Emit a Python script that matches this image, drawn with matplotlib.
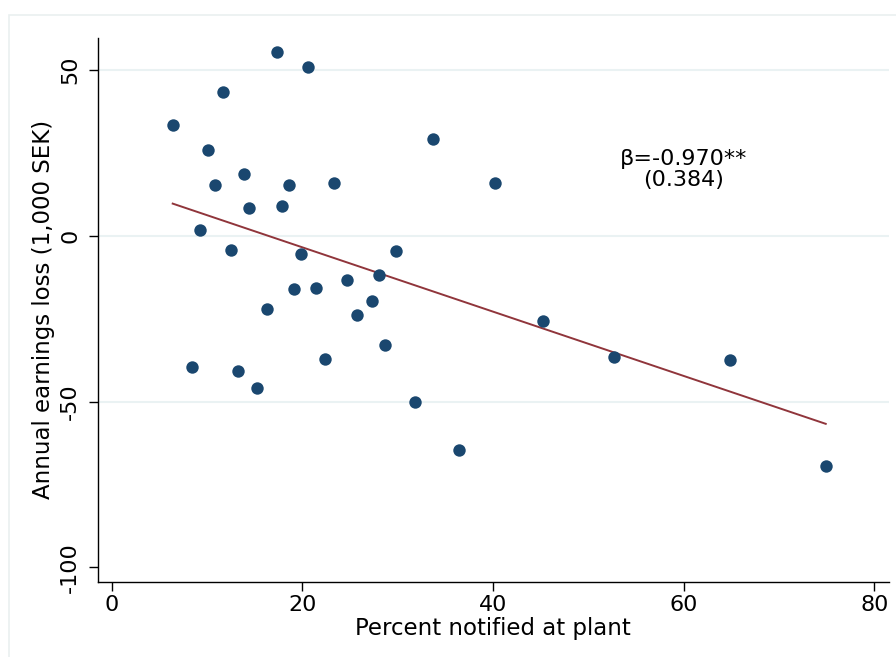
import numpy as np
import matplotlib
matplotlib.use("Agg")
import matplotlib.pyplot as plt
from matplotlib.patches import Rectangle

plt.rcParams["axes.unicode_minus"] = False

# Percent notified at plant vs. annual earnings loss (1,000 SEK)
pct_notified = [6.4, 17.3, 20.6, 11.7, 10.1, 33.7, 13.9, 10.8, 18.6, 23.3,
                14.4, 17.9, 9.3, 12.5, 19.9, 29.8, 24.7, 28.0, 19.1, 21.4,
                27.3, 16.3, 25.7, 28.7, 22.4, 8.4, 13.2, 15.2, 31.8, 36.4,
                40.2, 45.2, 52.7, 64.9, 74.9]
earnings_loss = [33.4, 55.6, 51.1, 43.5, 25.9, 29.1, 18.8, 15.5, 15.3, 15.9,
                 8.4, 9.0, 1.7, -4.2, -5.4, -4.6, -13.3, -11.9, -16.0, -15.7,
                 -19.5, -22.0, -24.0, -33.0, -37.1, -39.5, -40.8, -45.9, -50.2, -64.6,
                 15.9, -25.6, -36.4, -37.4, -69.3]

# fitted line
beta = -0.970
beta_se = 0.384
intercept = 15.96

x_ticks = [0, 20, 40, 60, 80]
y_ticks = [-100, -50, 0, 50]
grid_lines = [-50, 0, 50]

navy = "#1a476f"
maroon = "#90353b"

fig = plt.figure(figsize=(8.96, 6.57), dpi=100)
ax = fig.add_axes([0.109, 0.1142, 0.8828, 0.8284])

# faint outer frame like Stata's graph region
fig.patches.append(Rectangle((9 / 896, -0.05), 1.2, 1 - 15 / 657 + 0.05,
                             transform=fig.transFigure, fill=False,
                             edgecolor="#eaf0f0", linewidth=1.2))

for g in grid_lines:
    ax.axhline(g, color="#eaf2f3", linewidth=1.5, zorder=0)

ax.scatter(pct_notified, earnings_loss, s=80, color=navy, zorder=3, linewidths=0)

xs = np.array([min(pct_notified), max(pct_notified)])
ax.plot(xs, intercept + beta * xs, color=maroon, linewidth=1.4, zorder=2)

ax.text(60, 20, "β=%.3f**\n(%.3f)" % (beta, beta_se), ha="center", va="center",
        fontsize=16, linespacing=1.05)

ax.set_xlim(-1.47, 81.5)
ax.set_ylim(-104.4, 59.8)
ax.set_xticks(x_ticks)
ax.set_yticks(y_ticks)
ax.tick_params(axis="both", labelsize=16, length=6.5, width=1)
ax.tick_params(axis="x", pad=3)
ax.tick_params(axis="y", pad=6)
plt.setp(ax.get_yticklabels(), rotation=90, va="center")

ax.spines["top"].set_visible(False)
ax.spines["right"].set_visible(False)
ax.spines["left"].set_linewidth(1)
ax.spines["bottom"].set_linewidth(1)

ax.set_xlabel("Percent notified at plant", fontsize=16.5, labelpad=1)
ax.set_ylabel("Annual earnings loss (1,000 SEK)", fontsize=16.5, labelpad=4)

fig.savefig("out.png", dpi=100)
plt.close(fig)
